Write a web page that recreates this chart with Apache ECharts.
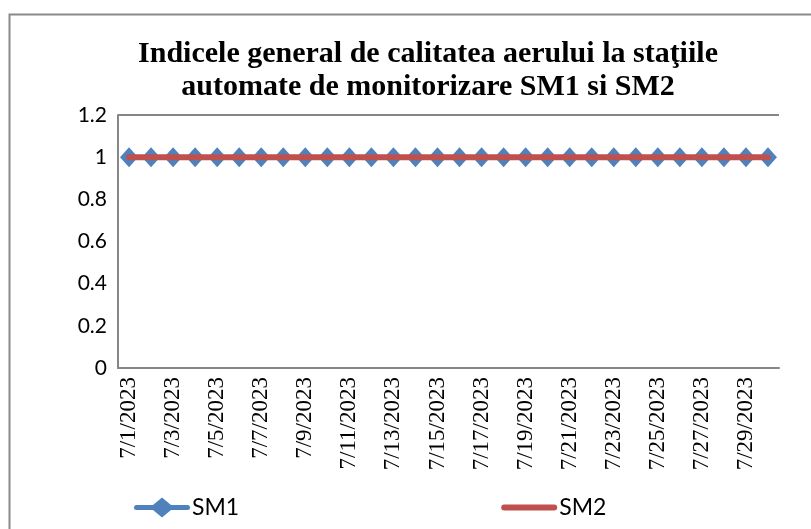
<!DOCTYPE html>
<html>
<head>
<meta charset="utf-8">
<script src="https://cdn.jsdelivr.net/npm/echarts@6/dist/echarts.min.js"></script>
<style>
  html, body { margin: 0; padding: 0; background: #fff; }
  #chart { width: 811px; height: 529px; }
</style>
</head>
<body>
<div id="chart"></div>
<script>
// date categories (one per day, July 2023)
const days = [
  '7/1/2023', '7/2/2023', '7/3/2023', '7/4/2023', '7/5/2023', '7/6/2023',
  '7/7/2023', '7/8/2023', '7/9/2023', '7/10/2023', '7/11/2023', '7/12/2023',
  '7/13/2023', '7/14/2023', '7/15/2023', '7/16/2023', '7/17/2023', '7/18/2023',
  '7/19/2023', '7/20/2023', '7/21/2023', '7/22/2023', '7/23/2023', '7/24/2023',
  '7/25/2023', '7/26/2023', '7/27/2023', '7/28/2023', '7/29/2023', '7/30/2023'
]

// index values
const sm1 = [1, 1, 1, 1, 1, 1, 1, 1, 1, 1, 1, 1, 1, 1, 1, 1, 1, 1, 1, 1, 1, 1, 1, 1, 1, 1, 1, 1, 1, 1]
const sm2 = [1, 1, 1, 1, 1, 1, 1, 1, 1, 1, 1, 1, 1, 1, 1, 1, 1, 1, 1, 1, 1, 1, 1, 1, 1, 1, 1, 1, 1, 1]

const titleText = 'Indicele general de calitatea aerului la staţiile\nautomate de monitorizare SM1 si SM2'

const sans = 'Lato, "Liberation Sans", sans-serif'
const serif = '"Liberation Serif", "DejaVu Serif", serif'
const axisGray = '#868686'

// legend icons: thick line with diamond (SM1), thick rounded line (SM2)
const iconSM1 = 'path://M2.5,7.5 L19,7.5 L28,0 L37,7.5 L53.5,7.5 A2.5,2.5 0 0 1 53.5,12.5 L37,12.5 L28,20 L19,12.5 L2.5,12.5 A2.5,2.5 0 0 1 2.5,7.5 Z'
const iconSM2 = 'path://M3,0 L53,0 A3,3 0 0 1 53,6 L3,6 A3,3 0 0 1 3,0 Z'

const chart = echarts.init(document.getElementById('chart'))

const option = {
  backgroundColor: '#fff',
  animation: false,
  graphic: [
    {
      type: 'rect',
      left: 7,
      top: 12,
      shape: { width: 900, height: 600 },
      style: { fill: 'none', stroke: '#8a8a8a', lineWidth: 2 },
      z: -1
    }
  ],
  title: {
    text: titleText,
    left: 423,
    top: 33,
    textAlign: 'center',
    textStyle: {
      fontFamily: serif,
      fontWeight: 'bold',
      fontSize: 30,
      lineHeight: 33,
      color: '#000'
    }
  },
  legend: {
    left: 129,
    top: 491,
    itemGap: 262,
    itemWidth: 56,
    itemHeight: 20,
    textStyle: { fontFamily: sans, fontSize: 23, color: '#000', padding: [0, 0, 0, -3] },
    data: [
      { name: 'SM1', icon: iconSM1 },
      { name: 'SM2', icon: iconSM2 }
    ]
  },
  grid: {
    left: 118,
    top: 115,
    right: 32,
    bottom: 161
  },
  xAxis: {
    type: 'category',
    data: days,
    boundaryGap: true,
    axisLine: { lineStyle: { color: axisGray, width: 2 } },
    axisTick: { show: false },
    axisLabel: {
      interval: 1,
      rotate: 90,
      margin: 9,
      fontFamily: serif,
      fontSize: 23,
      color: '#000'
    }
  },
  yAxis: {
    type: 'value',
    min: 0,
    max: 1.2,
    interval: 0.2,
    axisLine: { show: true, lineStyle: { color: axisGray, width: 2 } },
    axisTick: { show: false },
    axisLabel: {
      margin: 11,
      fontFamily: sans,
      fontSize: 21,
      color: '#000'
    },
    splitLine: {
      show: true,
      lineStyle: {
        color: ['transparent', 'transparent', 'transparent', 'transparent', 'transparent', 'transparent', axisGray],
        width: 2
      }
    }
  },
  series: [
    {
      name: 'SM1',
      type: 'line',
      data: sm1,
      symbol: 'diamond',
      symbolSize: [18, 20],
      showAllSymbol: true,
      itemStyle: { color: '#4F81BD' },
      lineStyle: { color: '#4F81BD', width: 4 },
      z: 2
    },
    {
      name: 'SM2',
      type: 'line',
      data: sm2,
      symbol: 'none',
      itemStyle: { color: '#C0504D' },
      lineStyle: { color: '#C0504D', width: 6, cap: 'round' },
      z: 3
    }
  ]
}

chart.setOption(option)
</script>
</body>
</html>
